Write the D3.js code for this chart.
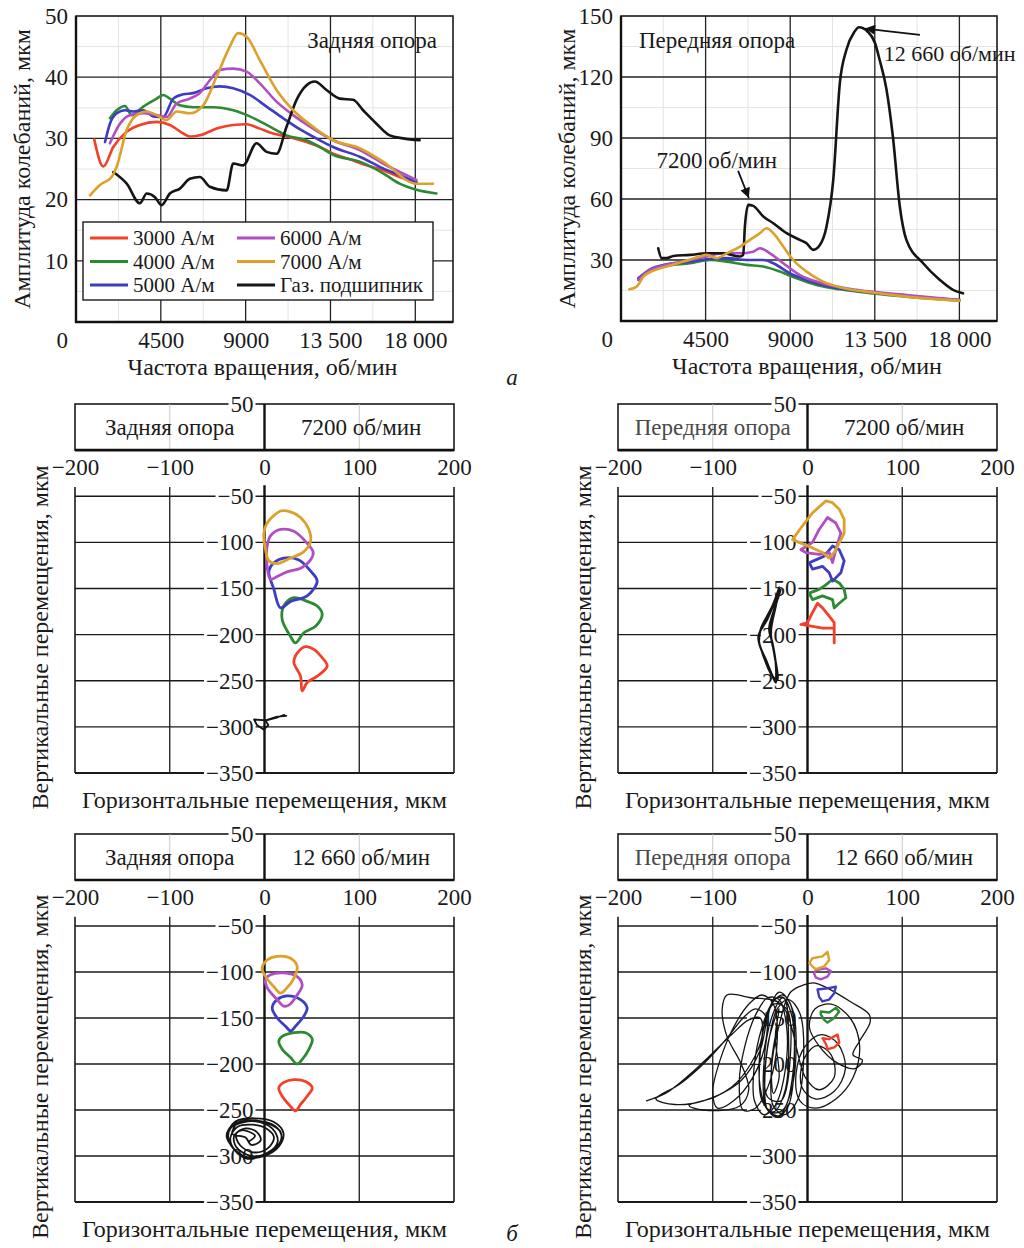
<!DOCTYPE html>
<html>
<head>
<meta charset="utf-8">
<style>
  body{ margin:0; background:#fff; }
  svg text{ font-family:"Liberation Serif","DejaVu Serif",serif; fill:#1a1a1a; }
</style>
<script src="https://d3js.org/d3.v7.min.js"></script>
</head>
<body>
<script>
  // colours of the series
  var cRed = "#f2402a", cGreen = "#2c8a32", cBlue = "#3f3cc4", cMag = "#b04ec4", cGold = "#dca12a", cBlack = "#151515";

  var legendNames = ["3000 А/м", "4000 А/м", "5000 А/м", "6000 А/м", "7000 А/м", "Газ. подшипник"];
  var legendColors = [cRed, cGreen, cBlue, cMag, cGold, cBlack];

  var rpmTicks = [4500, 9000, 13500, 18000];
  var rpmTickLabels = ["4500", "9000", "13 500", "18 000"];
  var rearAmpTicks = [10, 20, 30, 40, 50];
  var frontAmpTicks = [30, 60, 90, 120, 150];
  var orbXTicks = [-200, -100, 0, 100, 200];
  var orbYTicks = [50, -50, -100, -150, -200, -250, -300, -350];

  // rear support, amplitude vs speed [rpm, mkm]
  var rear3000 = [[970,29.8],[1450,25.4],[1980,28.6],[2690,31.1],[3390,32.2],[4280,32.7],[4980,32.2],[5690,30.8],[6040,30.3],[6570,30.5],[7460,31.6],[8340,32.2],[9050,32.3],[9750,31.6],[10460,30.8],[11340,30.2],[12230,29.4],[12930,28.6],[13640,27.5],[14520,26.6],[15410,25.6],[16290,24.8],[17170,23.7],[18060,22.8]];
  var rear4000 = [[1800,33.3],[2160,34.6],[2600,35.3],[2950,33.8],[3570,35.2],[4280,36.5],[4630,37.1],[4980,36.5],[5510,35.4],[6220,35.1],[7280,35.1],[8340,34.6],[9220,33.6],[10110,32.2],[11170,30.5],[12230,29.7],[12930,28.6],[13640,27.3],[15050,26.2],[16290,24.3],[17170,22.6],[18060,21.6],[19120,21.0]];
  var rear5000 = [[1540,29.4],[1800,32.4],[2160,34.1],[2600,34.6],[3040,34.4],[3570,34.6],[4100,33.6],[4630,33.5],[5160,36.5],[5690,37.2],[6220,37.4],[6930,38.2],[7630,38.5],[8340,38.2],[9220,37.1],[10110,35.2],[10990,33.3],[11870,31.5],[12930,29.7],[13640,28.6],[15050,27.0],[16290,25.1],[17170,24.0],[18060,22.9]];
  var rear6000 = [[1800,29.2],[2330,32.4],[2860,33.8],[3570,34.1],[4280,33.8],[4810,33.5],[5340,35.7],[6040,36.5],[6570,37.4],[7100,39.5],[7630,41.2],[8340,41.4],[9050,40.9],[9750,39.0],[10640,36.0],[11520,33.8],[12580,31.6],[13640,29.7],[15050,28.1],[16290,25.9],[18060,23.2]];
  var rear7000 = [[740,20.7],[1270,22.4],[1890,23.7],[2160,25.4],[2690,31.4],[3220,33.8],[3750,34.4],[4280,33.8],[4810,33.0],[5340,34.4],[6040,34.1],[6750,35.4],[7460,40.1],[8160,45.0],[8600,47.2],[9050,46.6],[9750,42.8],[10640,37.9],[11520,34.6],[12580,31.9],[13640,29.7],[15050,28.4],[16290,26.2],[18060,22.6],[18940,22.6]];
  var rearGas = [[1980,24.5],[2690,22.6],[3390,19.4],[3750,21.0],[4190,20.4],[4540,19.1],[4980,21.0],[5510,21.8],[6040,23.4],[6570,23.7],[7100,22.1],[7990,21.5],[8340,25.9],[8870,25.6],[9580,29.2],[10110,27.8],[10640,27.5],[11170,31.9],[11700,36.3],[12230,38.7],[12670,39.3],[13290,37.9],[13990,36.5],[14700,36.3],[15230,34.6],[15940,32.4],[16640,30.5],[17350,30.0],[18230,29.7]];

  // front support, amplitude vs speed [rpm, mkm]
  var front4000 = [[920,20.2],[1540,24.8],[2430,27.2],[3670,28.4],[4730,30.0],[5620,29.2],[6680,27.6],[7570,26.8],[8450,24.3],[9340,21.0],[10400,17.7],[11640,15.6],[13410,13.6],[18020,10.0]];
  var front5000 = [[920,21.0],[1540,25.4],[2430,27.9],[3670,29.2],[4550,30.4],[5620,30.9],[6680,30.0],[7570,30.0],[8100,28.4],[8980,23.5],[9870,20.2],[11290,16.6],[13410,14.0],[18020,10.3]];
  var front6000 = [[920,20.2],[1540,25.1],[2430,27.6],[3670,30.0],[4550,31.7],[5440,33.3],[6330,33.3],[7030,34.1],[7390,35.8],[7920,33.3],[8630,28.4],[9510,22.6],[10750,18.5],[12530,15.3],[15180,12.8],[18020,10.3]];
  var front7000 = [[440,15.6],[830,16.9],[1190,21.8],[1720,24.8],[2430,26.8],[3310,29.2],[4200,31.7],[4550,32.5],[5090,30.9],[5620,33.3],[6330,36.6],[6860,39.9],[7390,43.2],[7740,45.6],[8100,43.2],[8630,36.6],[9160,30.0],[9870,24.3],[10750,19.4],[11640,16.6],[13410,14.0],[15180,12.0],[18020,10.0]];
  var frontGas = [[1980,35.8],[2160,30.9],[2430,30.9],[2780,32.0],[3670,32.5],[4550,33.3],[5440,33.3],[6330,31.7],[6500,32.5],[6590,46.4],[6770,57.1],[7030,56.6],[7570,51.4],[8100,48.1],[8810,43.2],[9510,39.9],[9870,38.2],[10220,35.0],[10580,37.4],[10930,46.4],[11290,69.4],[11640,117],[11990,133.4],[12400,142],[12660,144.5],[13100,142.5],[13500,137],[13770,128],[14120,114],[14470,90],[14830,56.3],[15180,39.9],[16070,28.4],[16960,20.2],[17660,15.3],[18190,13.6]];

  // annotations on the front chart [rpm, mkm]
  var note7200 = {text: "7200 об/мин", at: [5100, 79], from: [6230, 73.8], to: [6800, 60.5]};
  var note12660 = {text: "12 660 об/мин", at: [13980, 131.8], from: [15900, 140.7], to: [12980, 143.8]};

  // orbits [horizontal mkm, vertical mkm]
  var r72_3000 = [[43.3,-213],[34.5,-220],[31,-230],[38,-245],[39.8,-261],[45,-252],[55.6,-245],[66.2,-234],[59.2,-223],[52.1,-216]];
  var r72_4000 = [[31,-160],[20.4,-169],[18.7,-184],[27.5,-202],[32.7,-209],[41.5,-198],[53.9,-191],[60.9,-178],[55.6,-169],[45,-164]];
  var r72_5000 = [[20.4,-117],[9.9,-122],[4.6,-131],[9.9,-151],[16.9,-171],[27.5,-164],[45,-158],[55.6,-142],[48.6,-131],[36.3,-119]];
  var r72_6000 = [[16.9,-86],[6.3,-93],[2.8,-104],[2.8,-126],[6.3,-140],[13.4,-137],[23.9,-132],[38,-128],[48.6,-119],[51.4,-111],[45,-101],[31,-88]];
  var r72_7000 = [[16.9,-66],[2.8,-79],[-0.7,-90],[1.1,-108],[4.6,-120],[13.4,-123],[27.5,-117],[41.5,-110],[48.6,-99],[46.8,-86],[38,-73],[27.5,-67]];
  var r72_gas = [[21,-287],[13,-290],[2,-293],[-11,-292],[-8,-298],[-0.7,-303],[4,-298],[1,-293],[13.4,-289],[23,-288]];

  var f72_3000 = [[28.2,-209],[28.2,-187],[22.9,-180],[15.8,-171],[10.6,-166],[5.3,-176],[0,-187],[-7,-189],[5.3,-191],[15.8,-193],[28.2,-193]];
  var f72_4000 = [[26.4,-140],[19.4,-146],[12.3,-151],[1.8,-155],[5.3,-162],[15.8,-158],[26.4,-162],[28.2,-171],[33.5,-166],[40.5,-160],[38.7,-151],[33.5,-144]];
  var f72_5000 = [[26.4,-104],[17.6,-115],[8.8,-119],[1.8,-122],[5.3,-129],[15.8,-126],[22.9,-133],[26.4,-142],[35.2,-133],[38.7,-120],[33.5,-108]];
  var f72_6000 = [[21.1,-73],[12.3,-86],[5.3,-100],[-7,-108],[-1.8,-111],[12.3,-113],[22.9,-111],[26.4,-122],[29.9,-108],[35.2,-90],[29.9,-79]];
  var f72_7000 = [[19.4,-55],[5.3,-68],[-5.3,-82],[-15.8,-97],[-8.8,-100],[5.3,-106],[15.8,-111],[22.9,-117],[28.2,-111],[38.7,-90],[38.7,-75],[33.5,-64],[26.4,-57]];
  var f72_gas = [[-29.9,-149],[-37,-169],[-49.3,-194],[-51,-209],[-44,-227],[-35.2,-249],[-33.5,-252],[-33.5,-231],[-37,-209],[-40.5,-194],[-35.2,-173],[-28.2,-151],[-31.7,-158],[-42.3,-183],[-51.8,-202],[-47.5,-220],[-37,-245],[-31.7,-249],[-35.2,-220],[-38.7,-198],[-33.5,-169],[-29.9,-151]];

  var r126_3000 = [[20.4,-220],[31,-217],[43.3,-219],[50.4,-226],[45,-235],[38,-244],[32.7,-251],[25.7,-244],[18.7,-235],[15.1,-226]];
  var r126_4000 = [[18.7,-170],[31,-166],[43.3,-166],[50.4,-173],[46.8,-184],[39.8,-195],[34.5,-200],[27.5,-193],[18.7,-184],[15.1,-175]];
  var r126_5000 = [[13.4,-130],[23.9,-126],[38,-130],[45,-139],[41.5,-148],[32.7,-159],[27.5,-164],[22.2,-159],[13.4,-150],[8.1,-139]];
  var r126_6000 = [[6.3,-103],[20.4,-101],[34.5,-105],[39.8,-114],[34.5,-125],[25.7,-136],[20.4,-137],[13.4,-130],[2.8,-117],[1.1,-108]];
  var r126_7000 = [[2.8,-87],[13.4,-83],[27.5,-85],[34.5,-94],[31,-107],[23.9,-117],[16.9,-123],[9.9,-116],[1.1,-105],[-2.5,-96]];
  var r126_gas = [[-38,-272],[-30,-262],[-10,-259],[10,-263],[20,-275],[15,-290],[0,-300],[-15,-302],[-30,-295],[-38,-282],[-36,-270],[-25,-264],[-5,-262],[12,-268],[18,-280],[10,-293],[-5,-301],[-22,-300],[-34,-290],[-40,-278],[-33,-266],[-15,-261],[5,-265],[17,-274],[16,-288],[2,-298],[-18,-303],[-32,-293],[-36,-280],[-28,-268],[-12,-266],[2,-270],[10,-280],[3,-292],[-12,-296],[-26,-288],[-30,-276],[-20,-270],[-8,-274],[-4,-283],[-14,-288],[-20,-280],[-34,-276],[-28,-264],[-12,-262],[8,-270],[14,-284],[4,-296],[-14,-300],[-30,-290],[-32,-278],[-24,-272],[-10,-278],[-16,-284]];

  var f126_3000 = [[15.8,-172],[22.9,-173],[31.7,-168],[33.5,-177],[28.2,-182],[21.1,-184],[19.4,-178]];
  var f126_4000 = [[14,-143],[22.9,-144],[29.9,-139],[33.5,-143],[28.2,-150],[21.1,-155],[17.6,-152],[14,-146]];
  var f126_5000 = [[10.6,-119],[19.4,-118],[29.9,-116],[28.2,-123],[22.9,-130],[15.8,-132],[12.3,-127]];
  var f126_6000 = [[8.8,-98],[19.4,-96],[24.6,-99],[21.1,-105],[14,-108],[8.8,-106],[7,-102]];
  var f126_7000 = [[5.3,-85],[15.8,-83],[21.1,-78],[22.9,-87],[17.6,-94],[8.8,-97],[5.3,-94],[2,-90]];
  var f126_gas = [[-170,-240],[-150,-232],[-125,-212],[-100,-188],[-80,-168],[-62,-152],[-50,-150],[-48,-170],[-60,-200],[-80,-225],[-110,-240],[-140,-244],[-160,-238],
    [-135,-222],[-108,-198],[-85,-172],[-68,-150],[-55,-140],[-44,-148],[-45,-180],[-58,-215],[-78,-240],[-95,-248],[-100,-230],[-92,-195],[-78,-160],[-62,-135],[-48,-125],[-36,-135],[-32,-175],[-40,-220],[-55,-248],[-68,-250],[-72,-220],[-66,-180],[-54,-145],[-42,-128],[-30,-130],[-22,-160],[-24,-210],[-34,-245],[-46,-255],[-56,-240],[-56,-200],[-48,-160],[-38,-135],[-26,-125],[-16,-140],[-12,-185],[-18,-232],[-30,-256],[-42,-250],[-45,-215],[-40,-170],[-32,-140],[-20,-130],[-8,-145],[-4,-190],[-10,-238],[-24,-255],[-36,-246],[-38,-205],[-30,-158],[-18,-122],[-4,-114],[8,-112],[22,-118],[45,-132],[65,-146],[66,-155],[55,-175],[48,-190],[58,-196],[50,-205],[30,-198],[12,-180],[2,-160],[8,-140],[25,-135],[45,-150],[55,-180],[48,-215],[30,-238],[8,-248],[-8,-240],[-12,-210],[-2,-180],[15,-168],[32,-178],[40,-205],[28,-230],[8,-238],[-6,-225],[-4,-195],[10,-180],[25,-190],[28,-215],[12,-228],[-2,-215],[-28,-135],[-60,-128],[-85,-125],[-90,-140],[-85,-170],[-70,-200],[-62,-228],[-72,-246],[-110,-250],[-125,-245],
    [-98,-236],[-70,-218],[-50,-185],[-42,-148],[-35,-130],[-25,-128],[-20,-170],[-24,-230],[-36,-252],[-48,-240],[-50,-190],[-42,-145],[-30,-122],[-18,-135],[-14,-200],[-20,-245],[-32,-258],[-44,-246],[-46,-200],[-38,-150],[-26,-128],[-16,-150],[-16,-215],[-26,-250],[-40,-252],[-50,-225],[-48,-170],[-36,-135],[-22,-140],[-18,-190],[-28,-240],[-42,-236],[-42,-180],[-30,-140],[-34,-170],[-30,-215],[-36,-232],[-38,-200],[-32,-160]];

  var svg = d3.select("body").append("svg")
    .attr("width", 1024)
    .attr("height", 1248)
    .style("background", "#fff");

  var defs = svg.append("defs");
  defs.append("marker")
    .attr("id", "arrow")
    .attr("viewBox", "0 0 10 10")
    .attr("refX", 10).attr("refY", 5)
    .attr("markerWidth", 14).attr("markerHeight", 10)
    .attr("markerUnits", "userSpaceOnUse")
    .attr("orient", "auto")
    .append("path").attr("d", "M0,0 L10,5 L0,10 Z").style("fill", "#111");

  // amplitude charts -------------------------------------------------
  function ampChart(o) {
    var x = d3.scaleLinear().domain([0, 20000]).range([o.left, o.right]);
    var y = d3.scaleLinear().domain([0, o.yMax]).range([o.bottom, o.top]);
    var g = svg.append("g");

    g.selectAll(".minx").data(d3.range(2250, 20000, 4500)).join("line")
      .attr("x1", d => x(d)).attr("x2", d => x(d)).attr("y1", o.top).attr("y2", o.bottom)
      .style("stroke", "#e4e4e4").style("stroke-width", 1);
    g.selectAll(".miny").data(o.yTicks.map(d => d - o.yTicks[0] / 2)).join("line")
      .attr("x1", o.left).attr("x2", o.right).attr("y1", d => y(d)).attr("y2", d => y(d))
      .style("stroke", "#e4e4e4").style("stroke-width", 1);

    g.selectAll(".gx").data(rpmTicks).join("line")
      .attr("x1", d => x(d)).attr("x2", d => x(d)).attr("y1", o.top).attr("y2", o.bottom)
      .style("stroke", "#222").style("stroke-width", 1.3);
    g.selectAll(".gy").data(o.yTicks.slice(0, -1)).join("line")
      .attr("x1", o.left).attr("x2", o.right).attr("y1", d => y(d)).attr("y2", d => y(d))
      .style("stroke", "#222").style("stroke-width", 1.3);

    g.append("rect")
      .attr("x", o.left).attr("y", o.top)
      .attr("width", o.right - o.left).attr("height", o.bottom - o.top)
      .style("fill", "none").style("stroke", "#1a1a1a").style("stroke-width", 1.6);
    g.append("path")
      .attr("d", "M" + o.left + "," + o.top + "V" + o.bottom + "H" + o.right)
      .style("fill", "none").style("stroke", "#111").style("stroke-width", 2.4);

    var line = d3.line().x(d => x(d[0])).y(d => y(d[1])).curve(d3.curveMonotoneX);
    o.series.forEach(function(s) {
      g.append("path")
        .attr("d", line(s.data))
        .style("fill", "none").style("stroke", s.color)
        .style("stroke-width", 2.6).style("stroke-linejoin", "round").style("stroke-linecap", "round");
    });

    var ax = g.append("g").attr("transform", "translate(0," + o.bottom + ")")
      .call(d3.axisBottom(x).tickValues(rpmTicks).tickFormat((d, i) => rpmTickLabels[i]).tickSize(0).tickPadding(10));
    ax.select(".domain").remove();
    ax.attr("font-family", null).attr("font-size", null);
    ax.selectAll("text").style("font-size", "23px").style("fill", "#1a1a1a");

    var ay = g.append("g").attr("transform", "translate(" + o.left + ",0)")
      .call(d3.axisLeft(y).tickValues(o.yTicks).tickSize(0).tickPadding(8));
    ay.select(".domain").remove();
    ay.attr("font-family", null).attr("font-size", null);
    ay.selectAll("text").style("font-size", "23px").style("fill", "#1a1a1a");

    g.append("text").attr("x", o.left - 8).attr("y", o.bottom + 26)
      .attr("text-anchor", "end").style("font-size", "23px").text("0");

    g.append("text")
      .attr("transform", "translate(" + (o.left - 54) + "," + ((o.top + o.bottom) / 2) + ") rotate(-90)")
      .attr("text-anchor", "middle").attr("dy", "0.35em")
      .style("font-size", "24px").text("Амплитуда колебаний, мкм");
    g.append("text").attr("x", (o.left + o.right) / 2 - 2).attr("y", o.bottom + 53)
      .attr("text-anchor", "middle")
      .style("font-size", "24px").text("Частота вращения, об/мин");

    return {x: x, y: y, g: g};
  }

  var rear = ampChart({
    left: 76, right: 453, top: 16, bottom: 322, yMax: 50, yTicks: rearAmpTicks,
    series: [
      {data: rear3000, color: cRed}, {data: rear4000, color: cGreen}, {data: rear5000, color: cBlue},
      {data: rear6000, color: cMag}, {data: rearGas, color: cBlack}, {data: rear7000, color: cGold}
    ]
  });
  rear.g.append("text").attr("x", 437).attr("y", 48).attr("text-anchor", "end")
    .style("font-size", "23px").text("Задняя опора");

  // legend
  var lg = rear.g.append("g");
  lg.append("rect").attr("x", 83).attr("y", 222).attr("width", 350).attr("height", 78)
    .style("fill", "#fff").style("stroke", "#1a1a1a").style("stroke-width", 1.4);
  var li = lg.selectAll(".li").data(legendNames).join("g")
    .attr("transform", (d, i) => "translate(" + (i < 3 ? 90 : 237) + "," + (238 + (i % 3) * 23.5) + ")");
  li.append("line").attr("x1", 0).attr("x2", 38)
    .style("stroke", (d, i) => legendColors[i]).style("stroke-width", 2.8);
  li.append("text").attr("x", 43).attr("dy", "0.35em").style("font-size", "21px").text(d => d);

  var front = ampChart({
    left: 621, right: 997, top: 16, bottom: 321, yMax: 150, yTicks: frontAmpTicks,
    series: [
      {data: front4000, color: cGreen}, {data: front5000, color: cBlue}, {data: front6000, color: cMag},
      {data: frontGas, color: cBlack}, {data: front7000, color: cGold}
    ]
  });
  front.g.append("text").attr("x", 639).attr("y", 48)
    .style("font-size", "23px").text("Передняя опора");

  [note7200, note12660].forEach(function(n) {
    front.g.append("line")
      .attr("x1", front.x(n.from[0])).attr("y1", front.y(n.from[1]))
      .attr("x2", front.x(n.to[0])).attr("y2", front.y(n.to[1]))
      .attr("marker-end", "url(#arrow)")
      .style("stroke", "#111").style("stroke-width", 1.8);
  });
  front.g.append("text").attr("x", front.x(note7200.at[0])).attr("y", front.y(note7200.at[1]))
    .attr("text-anchor", "middle").attr("dy", "0.35em").style("font-size", "23px").text(note7200.text);
  front.g.append("text").attr("x", front.x(note12660.at[0])).attr("y", front.y(note12660.at[1]))
    .attr("dy", "0.35em").style("font-size", "22px").text(note12660.text);

  svg.append("text").attr("x", 512).attr("y", 385).attr("text-anchor", "middle")
    .style("font-size", "23px").style("font-style", "italic").text("а");

  // orbit charts -------------------------------------------------
  function orbitChart(o) {
    var x = d3.scaleLinear().domain([-200, 200]).range([o.left, o.right]);
    var y = d3.scaleLinear().domain([-350, 50]).range([o.bottom, o.top]);
    var g = svg.append("g");

    // header box
    g.append("rect")
      .attr("x", x(-200)).attr("y", y(50)).attr("width", x(200) - x(-200)).attr("height", y(0) - y(50))
      .style("fill", "none").style("stroke", "#1a1a1a").style("stroke-width", 1.6);
    g.selectAll(".hx").data([-100, 100]).join("line")
      .attr("x1", d => x(d)).attr("x2", d => x(d)).attr("y1", y(50)).attr("y2", y(0))
      .style("stroke", "#bbb").style("stroke-width", 0.8);

    // grid
    g.selectAll(".gy").data(orbYTicks.filter(d => d < 0)).join("line")
      .attr("x1", x(-200)).attr("x2", x(200)).attr("y1", d => y(d)).attr("y2", d => y(d))
      .style("stroke", "#1a1a1a").style("stroke-width", d => d === -350 ? 1.8 : 1.3);
    g.selectAll(".gx").data(orbXTicks.filter(d => d !== 0)).join("line")
      .attr("x1", d => x(d)).attr("x2", d => x(d)).attr("y1", y(-40)).attr("y2", y(-350))
      .style("stroke", "#1a1a1a").style("stroke-width", d => Math.abs(d) === 200 ? 1.6 : 1.3);

    // x axis at zero
    var ax = g.append("g").attr("transform", "translate(0," + y(0) + ")")
      .call(d3.axisBottom(x).tickValues(orbXTicks).tickFormat(d => d3.format("d")(d).replace("-", "–")).tickSize(0).tickPadding(9));
    ax.select(".domain").remove();
    ax.attr("font-family", null).attr("font-size", null);
    ax.selectAll("text").style("font-size", "23px").style("fill", "#1a1a1a");
    g.append("line").attr("x1", x(-200)).attr("x2", x(200)).attr("y1", y(0)).attr("y2", y(0))
      .style("stroke", "#111").style("stroke-width", 2.6);

    // y axis labels with white backing
    var ay = g.append("g").attr("transform", "translate(" + x(0) + ",0)")
      .call(d3.axisLeft(y).tickValues(orbYTicks).tickFormat(d => d3.format("d")(d).replace("-", "–")).tickSize(0).tickPadding(11));
    ay.select(".domain").remove();
    ay.attr("font-family", null).attr("font-size", null);
    ay.selectAll("text").style("font-size", "23px").style("fill", "#1a1a1a");
    ay.selectAll(".tick").each(function() {
      var t = d3.select(this), bb = t.select("text").node().getBBox();
      t.insert("rect", "text").attr("x", bb.x - 2).attr("y", bb.y + 4).attr("width", bb.width + 4).attr("height", bb.height - 8)
        .style("fill", "#fff");
    });

    // y axis line
    g.append("path")
      .attr("d", "M" + x(0) + "," + y(50) + "V" + y(0) + "M" + x(0) + "," + y(-38) + "V" + y(-350))
      .style("stroke", "#111").style("stroke-width", 2.4);

    g.append("text").attr("x", x(-100)).attr("y", (y(50) + y(0)) / 2).attr("dy", "0.35em")
      .attr("text-anchor", "middle").style("font-size", "23px").style("fill", o.titleColor).text(o.title);
    g.append("text").attr("x", x(102)).attr("y", (y(50) + y(0)) / 2).attr("dy", "0.35em")
      .attr("text-anchor", "middle").style("font-size", "23px").text(o.speed);

    g.append("text")
      .attr("transform", "translate(" + (o.left - 35) + "," + (y(-203)) + ") rotate(-90)")
      .attr("text-anchor", "middle").attr("dy", "0.35em")
      .style("font-size", "24px").text("Вертикальные перемещения, мкм");
    g.append("text").attr("x", x(0)).attr("y", o.bottom + 35)
      .attr("text-anchor", "middle")
      .style("font-size", "24px").text("Горизонтальные перемещения, мкм");

    o.loops.forEach(function(s) {
      var curve = s.open ? (s.smooth ? d3.curveCatmullRom : d3.curveLinear)
        : (s.smooth ? d3.curveCatmullRomClosed : d3.curveLinearClosed);
      var line = d3.line().x(d => x(d[0])).y(d => y(d[1])).curve(curve);
      g.append("path")
        .attr("d", line(s.data))
        .style("fill", "none").style("stroke", s.color)
        .style("stroke-width", s.w || 2.8).style("stroke-linejoin", "round").style("stroke-linecap", "round");
    });
    return g;
  }

  orbitChart({
    left: 75, right: 454, top: 404, bottom: 773, title: "Задняя опора", titleColor: "#1a1a1a", speed: "7200 об/мин",
    loops: [
      {data: r72_3000, color: cRed, smooth: true}, {data: r72_4000, color: cGreen, smooth: true},
      {data: r72_5000, color: cBlue, smooth: true}, {data: r72_6000, color: cMag, smooth: true},
      {data: r72_7000, color: cGold, smooth: true}, {data: r72_gas, color: cBlack, open: true, w: 1.8}
    ]
  });
  orbitChart({
    left: 618, right: 997, top: 404, bottom: 773, title: "Передняя опора", titleColor: "#4a4a4a", speed: "7200 об/мин",
    loops: [
      {data: f72_3000, color: cRed, open: true}, {data: f72_4000, color: cGreen},
      {data: f72_5000, color: cBlue}, {data: f72_6000, color: cMag},
      {data: f72_7000, color: cGold}, {data: f72_gas, color: cBlack, open: true, smooth: true, w: 2.2}
    ]
  });
  orbitChart({
    left: 75, right: 454, top: 834, bottom: 1202, title: "Задняя опора", titleColor: "#1a1a1a", speed: "12 660 об/мин",
    loops: [
      {data: r126_3000, color: cRed, smooth: true}, {data: r126_4000, color: cGreen, smooth: true},
      {data: r126_5000, color: cBlue, smooth: true}, {data: r126_6000, color: cMag, smooth: true},
      {data: r126_7000, color: cGold, smooth: true}, {data: r126_gas, color: cBlack, open: true, smooth: true, w: 1.8}
    ]
  });
  orbitChart({
    left: 618, right: 997, top: 834, bottom: 1202, title: "Передняя опора", titleColor: "#4a4a4a", speed: "12 660 об/мин",
    loops: [
      {data: f126_gas, color: cBlack, open: true, smooth: true, w: 1.3},
      {data: f126_3000, color: cRed, w: 2.4}, {data: f126_4000, color: cGreen, w: 2.4},
      {data: f126_5000, color: cBlue, w: 2.4}, {data: f126_6000, color: cMag, w: 2.4},
      {data: f126_7000, color: cGold, w: 2.4}
    ]
  });

  svg.append("text").attr("x", 512).attr("y", 1241).attr("text-anchor", "middle")
    .style("font-size", "23px").style("font-style", "italic").text("б");
</script>
</body>
</html>
